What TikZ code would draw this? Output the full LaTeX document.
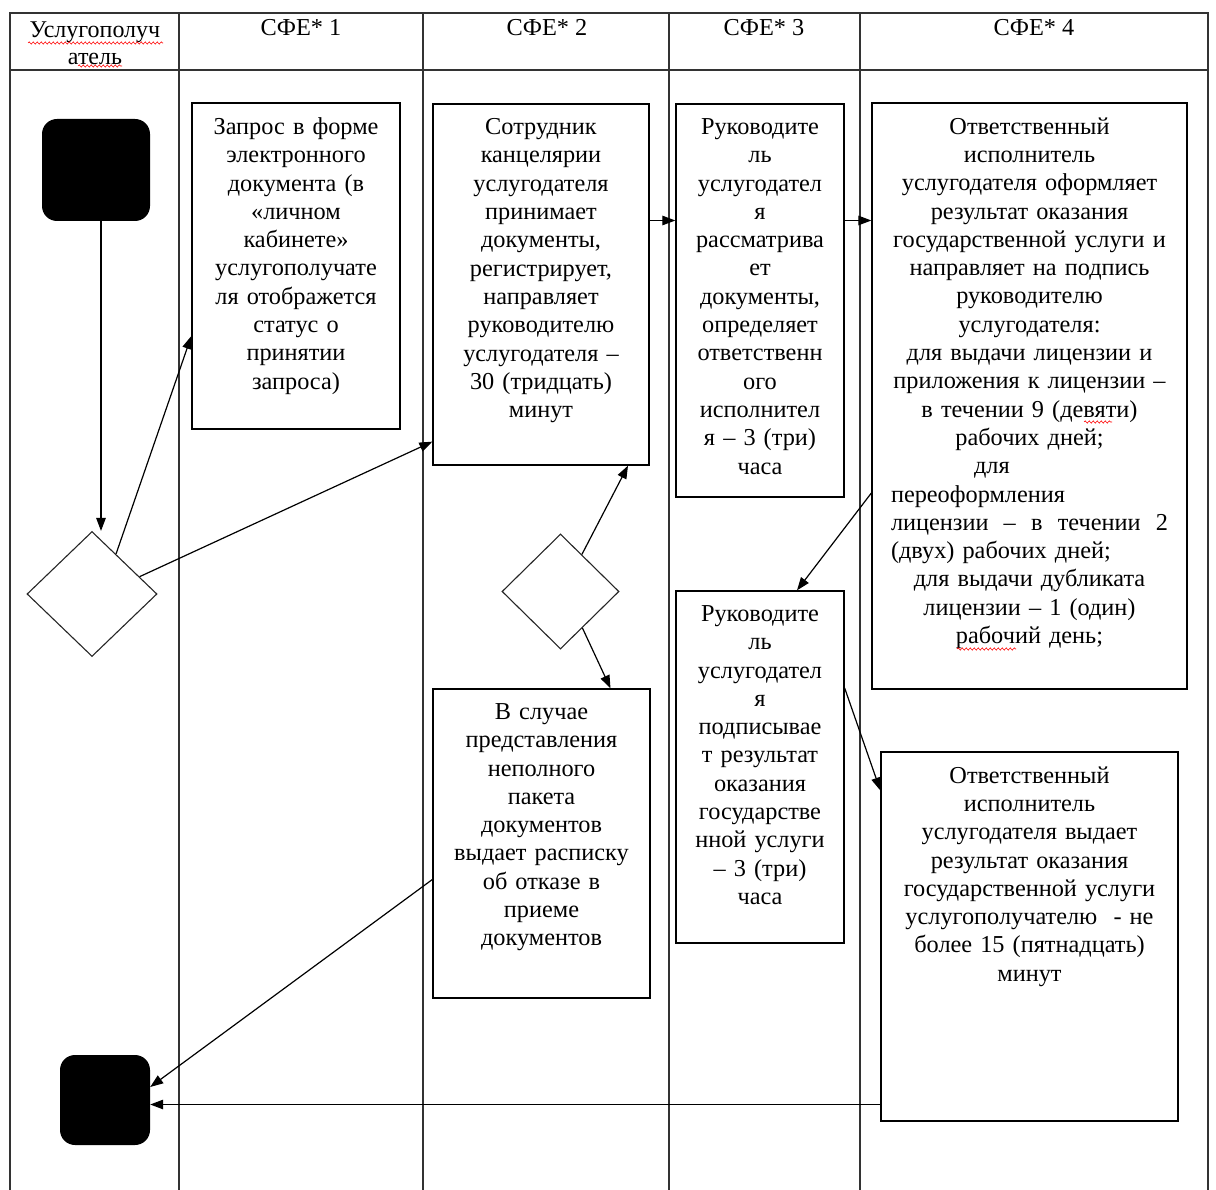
\documentclass[tikz,border=0pt]{standalone}
\usepackage{fontspec}
\setmainfont{Liberation Serif}
\usetikzlibrary{arrows.meta,decorations.pathmorphing,positioning,shapes.geometric}

\begin{document}
\begin{tikzpicture}[x=1pt,y=-1pt,
  every node/.style={font=\fontsize{24.3}{28.3}\selectfont},
  lane/.style={draw=black!80,line width=1.7pt},
  stepbox/.style={draw,line width=1.3pt,inner sep=0pt},
  boxtext/.style={anchor=north,yshift=-15pt,inner sep=0pt,align=center},
  choice/.style={draw=black!85,line width=1.1pt,diamond,inner sep=0pt},
  terminal/.style={fill=black,rounded corners=15pt,inner sep=0pt},
  flow/.style={-{Triangle[length=13pt,width=9.5pt]},line width=1.2pt},
  spell/.style={red,line width=0.6pt,decorate,decoration={snake,amplitude=1.1pt,segment length=4pt}}]
  \useasboundingbox (0,0) rectangle (1216,1190);

  \draw[lane] (10,1190) -- (10,13) -- (1208,13) -- (1208,1190); %Draw table frame
  \draw[lane] (10,70) -- (1208,70); %Draw header line
  \foreach \x in {179,423,669,860}
    \draw[lane] (\x,13) -- (\x,1190); %Draw lanes

  \node[align=center,font=\fontsize{24}{27}\selectfont] (h0) at (95,43) {Услугополуч\\атель}; %Lane titles
  \node (h1) at (301,28) {СФЕ* 1};
  \node (h2) at (547,28) {СФЕ* 2};
  \node (h3) at (764,28) {СФЕ* 3};
  \node (h4) at (1034,28) {СФЕ* 4};

  \node[terminal,minimum width=108pt,minimum height=102pt] (start) at (96,170) {}; %Start
  \node[choice,minimum width=130pt,minimum height=125pt] (dec1) at (92,594) {}; %Choice of receiver
  \node[terminal,minimum width=90pt,minimum height=90pt] (end) at (105,1100) {}; %End

  \node[stepbox,minimum width=208pt,minimum height=326pt] (box1) at (296,266) {};
  \node[boxtext,text width=196pt] (t1) at (box1.north) {Запрос в форме\\электронного\\документа (в\\«личном\\кабинете»\\услугополучате\\ля отображется\\статус о\\принятии\\запроса)};

  \node[stepbox,minimum width=216pt,minimum height=361pt] (box2) at (541,284.5) {};
  \node[boxtext,text width=204pt] (t2) at (box2.north) {Сотрудник\\канцелярии\\услугодателя\\принимает\\документы,\\регистрирует,\\направляет\\руководителю\\услугодателя –\\30 (тридцать)\\минут};

  \node[stepbox,minimum width=168pt,minimum height=393pt] (box3) at (760,300.5) {};
  \node[boxtext,text width=160pt] (t3) at (box3.north) {Руководите\\ль\\услугодател\\я\\рассматрива\\ет\\документы,\\определяет\\ответственн\\ого\\исполнител\\я – 3 (три)\\часа};

  \node[stepbox,minimum width=315pt,minimum height=586pt] (box4) at (1029.5,396) {};
  \node[boxtext,text width=277pt] (t4) at (box4.north) {Ответственный\\исполнитель\\услугодателя оформляет\\результат оказания\\государственной услуги и\\направляет на подпись\\руководителю\\услугодателя:\\для выдачи лицензии и\\приложения к лицензии –\\в течении 9 (девяти)\\рабочих дней;\\
    \makebox[\linewidth][l]{\hspace{83pt}для}\\
    \makebox[\linewidth][l]{переоформления}\\
    \makebox[\linewidth][s]{лицензии\hspace{8pt plus 20pt}–\hspace{8pt plus 20pt}в\hspace{8pt plus 20pt}течении\hspace{8pt plus 20pt}2}\\
    \makebox[\linewidth][l]{(двух) рабочих дней;}\\
    для выдачи дубликата\\лицензии – 1 (один)\\рабочий день;};

  \node[choice,minimum width=117pt,minimum height=115pt] (dec2) at (560.5,591.5) {}; %Check of documents

  \node[stepbox,minimum width=217pt,minimum height=309pt] (box5) at (541.5,843.5) {};
  \node[boxtext,text width=204pt] (t5) at (box5.north) {В случае\\представления\\неполного\\пакета\\документов\\выдает расписку\\об отказе в\\приеме\\документов};

  \node[stepbox,minimum width=168pt,minimum height=352pt] (box6) at (760,767) {};
  \node[boxtext,text width=160pt] (t6) at (box6.north) {Руководите\\ль\\услугодател\\я\\подписывае\\т результат\\оказания\\государстве\\нной услуги\\– 3 (три)\\часа};

  \node[stepbox,minimum width=297pt,minimum height=369pt] (box7) at (1029.5,936.5) {};
  \node[boxtext,text width=285pt] (t7) at (box7.north) {Ответственный\\исполнитель\\услугодателя выдает\\результат оказания\\государственной услуги\\услугополучателю \ - не\\более 15 (пятнадцать)\\минут};

  \draw[flow] ([xshift=5pt]start.south) -- ([xshift=5pt]start.south |- dec1.north); %Start to choice
  \draw[flow] (dec1.59) -- ([yshift=-70pt]box1.west); %Choice to request
  \draw[flow] (dec1.20) -- ([yshift=24pt]box2.south west); %Choice to office
  \draw[flow] ([yshift=64pt]box2.east) -- ([yshift=64pt]box2.east -| box3.west); %Office to head
  \draw[flow] ([yshift=80pt]box3.east) -- ([yshift=80pt]box3.east -| box4.west); %Head to executor
  \draw[flow] (dec2.60) -- ([xshift=87pt]box2.south); %Check back to office
  \draw[flow] (dec2.-59) -- ([xshift=69pt]box5.north); %Check to refusal
  \draw[flow] ([yshift=-97pt]box4.west) -- ([xshift=37pt]box6.north); %Executor to signing
  \draw[flow] ([yshift=79pt]box6.east) -- ([yshift=146pt]box7.west); %Signing to issue
  \draw[flow] ([yshift=-36pt]box5.west) -- ([yshift=13pt]end.east); %Refusal to end
  \draw[flow] ([yshift=-168pt]box7.west) -- ([yshift=-168pt]box7.west -| end.east); %Issue to end

  \draw[spell] (28,43) -- (163,43); %Spelling marks
  \draw[spell] (78,66) -- (122,66);
  \draw[spell] (1084,422) -- (1112,422);
  \draw[spell] (957,649) -- (1016,649);
\end{tikzpicture}
\end{document}
